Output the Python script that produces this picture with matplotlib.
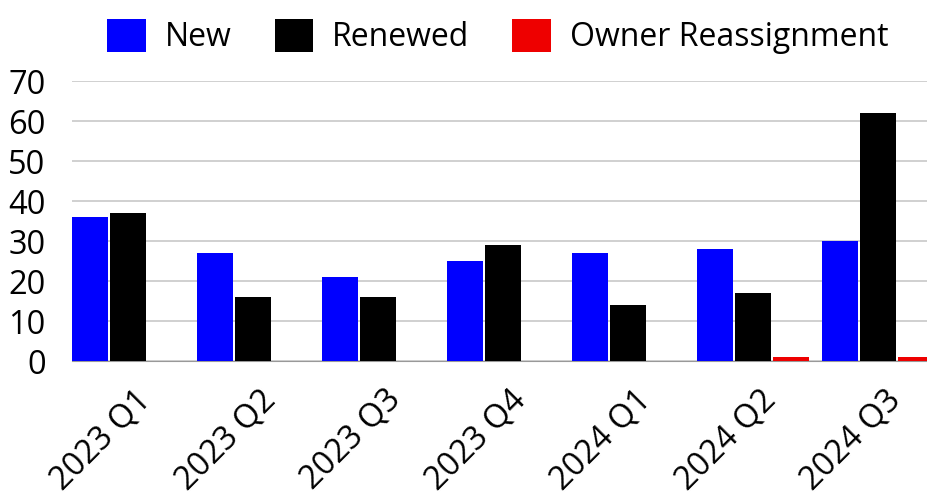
import matplotlib
matplotlib.use("Agg")
import matplotlib.pyplot as plt
import numpy as np

quarters = ["2023 Q1", "2023 Q2", "2023 Q3", "2023 Q4", "2024 Q1", "2024 Q2", "2024 Q3"]
new = [36, 27, 21, 25, 27, 28, 30]
renewed = [37, 16, 16, 29, 14, 17, 62]
owner_reassignment = [0, 0, 0, 0, 0, 1, 1]

plt.rcParams['font.family'] = ['Open Sans', 'DejaVu Sans']

W, H = 927, 497
fig = plt.figure(figsize=(W / 100, H / 100), dpi=100)
ax = fig.add_axes([72 / W, 136 / H, (W - 72) / W, 280 / H])

x = np.arange(len(quarters))
bw = 0.288
ax.bar(x, new, bw, align='edge', color='#0000ff', label='New', zorder=3)
ax.bar(x + 0.304, renewed, bw, align='edge', color='#000000', label='Renewed', zorder=3)
ax.bar(x + 0.608, owner_reassignment, bw, align='edge', color='#ee0000',
       label='Owner Reassignment', zorder=3)

ax.set_xlim(0, (W - 72) / 125)
ax.set_ylim(0, 70)
ax.set_yticks(range(0, 71, 10))
ax.yaxis.grid(True, color='#c8c8c8', linewidth=1.2, zorder=0)
for s in ['top', 'right', 'left']:
    ax.spines[s].set_visible(False)
ax.spines['bottom'].set_color('#999999')
ax.tick_params(axis='y', length=0, pad=19, labelsize=23.5)
ax.tick_params(axis='x', length=0, pad=16, labelsize=23.5)
ax.set_xticks(x + 0.5)
ax.set_xticklabels(quarters, rotation=45, ha='right', rotation_mode='anchor')

fig.legend(loc='upper center', bbox_to_anchor=(0.537, 1.02), ncol=3, frameon=False,
           fontsize=23, handlelength=1.2, handleheight=1.2, columnspacing=1.35,
           handletextpad=0.6)

fig.savefig("out.png", dpi=100)
